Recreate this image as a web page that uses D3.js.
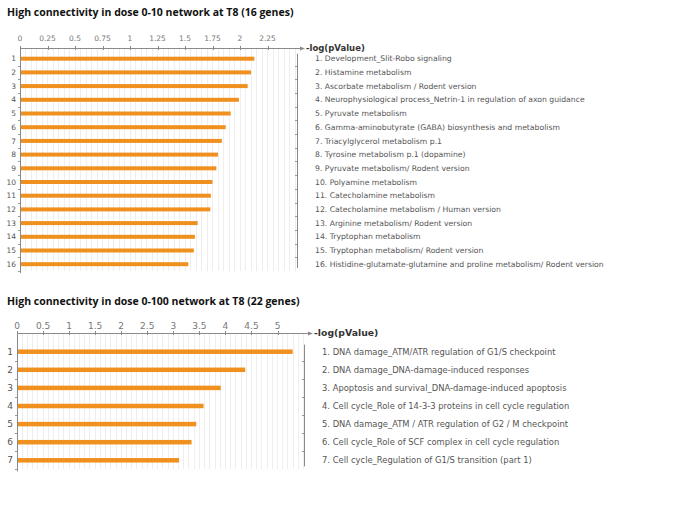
<!DOCTYPE html>
<html><head><meta charset="utf-8">
<script src="https://cdn.jsdelivr.net/npm/d3@7/dist/d3.min.js"></script>
<style>
body{margin:0;background:#fff;}
svg{display:block;}
</style></head>
<body>
<svg id="c" width="685" height="513"></svg>
<script>
// ---- Data ----
const title1 = "High connectivity in dose 0-10 network at T8 (16 genes)";
const pathways1 = [
  "Development_Slit-Robo signaling",
  "Histamine metabolism",
  "Ascorbate metabolism / Rodent version",
  "Neurophysiological process_Netrin-1 in regulation of axon guidance",
  "Pyruvate metabolism",
  "Gamma-aminobutyrate (GABA) biosynthesis and metabolism",
  "Triacylglycerol metabolism p.1",
  "Tyrosine metabolism p.1 (dopamine)",
  "Pyruvate metabolism/ Rodent version",
  "Polyamine metabolism",
  "Catecholamine metabolism",
  "Catecholamine metabolism / Human version",
  "Arginine metabolism/ Rodent version",
  "Tryptophan metabolism",
  "Tryptophan metabolism/ Rodent version",
  "Histidine-glutamate-glutamine and proline metabolism/ Rodent version"
];
const values1 = [2.13, 2.10, 2.07, 1.99, 1.915, 1.87, 1.835, 1.80, 1.785, 1.75, 1.735, 1.73, 1.615, 1.59, 1.58, 1.53];
const ticks1 = [0, 0.25, 0.5, 0.75, 1, 1.25, 1.5, 1.75, 2, 2.25];

const title2 = "High connectivity in dose 0-100 network at T8 (22 genes)";
const pathways2 = [
  "DNA damage_ATM/ATR regulation of G1/S checkpoint",
  "DNA damage_DNA-damage-induced responses",
  "Apoptosis and survival_DNA-damage-induced apoptosis",
  "Cell cycle_Role of 14-3-3 proteins in cell cycle regulation",
  "DNA damage_ATM / ATR regulation of G2 / M checkpoint",
  "Cell cycle_Role of SCF complex in cell cycle regulation",
  "Cell cycle_Regulation of G1/S transition (part 1)"
];
const values2 = [5.29, 4.38, 3.91, 3.58, 3.44, 3.35, 3.11];
const ticks2 = [0, 0.5, 1, 1.5, 2, 2.5, 3, 3.5, 4, 4.5, 5];

const axisTitle = "-log(pValue)";

// ---- Drawing ----
const svg = d3.select("#c");
const FONT = "'DejaVu Sans', Verdana, sans-serif";
const BAR = "#f0901e";

function panel(cfg) {
  const g = svg.append("g");
  const x = d3.scaleLinear().domain([0, cfg.xmax]).range([cfg.x0, cfg.x1]);
  const y = d3.scaleBand().domain(cfg.values.map((d, i) => i + 1))
    .range([cfg.yTop, cfg.yBot]).paddingInner(0).paddingOuter(0);

  // title
  g.append("text").attr("x", 7).attr("y", cfg.titleY)
    .attr("font-family", "'Open Sans', 'Liberation Sans', sans-serif")
    .attr("font-weight", "bold").attr("font-size", cfg.titleSize)
    .attr("fill", "#111").text(cfg.title);

  // minor gridlines
  const grid = d3.range(0, Math.round(cfg.xmax / cfg.minor) + 1).map(i => i * cfg.minor);
  g.append("g").selectAll("line").data(grid.slice(1)).join("line")
    .attr("x1", d => x(d)).attr("x2", d => x(d))
    .attr("y1", cfg.axisY).attr("y2", cfg.yBot)
    .attr("stroke", "#eeeeee").attr("stroke-width", 1).attr("shape-rendering", "crispEdges");

  // top axis line with arrow
  g.append("line").attr("x1", cfg.x0).attr("x2", cfg.arrowX)
    .attr("y1", cfg.axisY).attr("y2", cfg.axisY)
    .attr("stroke", "#8a8a8a").attr("shape-rendering", "crispEdges");
  g.append("path")
    .attr("d", `M${cfg.arrowX + 3},${cfg.axisY + 0.5} L${cfg.arrowX - 2},${cfg.axisY - 1.5} L${cfg.arrowX - 2},${cfg.axisY + 2.5} Z`)
    .attr("fill", "#8a8a8a");

  // tick marks + labels
  const tk = g.append("g");
  tk.selectAll("line").data(cfg.ticks).join("line")
    .attr("x1", d => Math.round(x(d)) + 0.5).attr("x2", d => Math.round(x(d)) + 0.5)
    .attr("y1", cfg.axisY - 2).attr("y2", cfg.axisY + 2).attr("stroke", "#8a8a8a");
  tk.selectAll("text").data(cfg.ticks).join("text")
    .attr("x", d => x(d)).attr("y", cfg.tickY)
    .attr("text-anchor", "middle").attr("font-family", FONT)
    .attr("font-size", cfg.tickSize).attr("fill", "#777").text(d => d);

  // axis title
  g.append("text").attr("x", cfg.arrowX + 4).attr("y", cfg.axisY + 3)
    .attr("font-family", FONT).attr("font-weight", "bold")
    .attr("font-size", cfg.axisTitleSize).attr("fill", "#333").text(axisTitle);

  // left axis line
  g.append("line").attr("x1", cfg.x0 + 0.5).attr("x2", cfg.x0 + 0.5)
    .attr("y1", cfg.axisY).attr("y2", cfg.yBot + 2)
    .attr("stroke", "#8a8a8a");
  // right line
  g.append("line").attr("x1", cfg.rightX + 0.5).attr("x2", cfg.rightX + 0.5)
    .attr("y1", cfg.yTop + 2).attr("y2", cfg.yBot - 3)
    .attr("stroke", "#8a8a8a");

  // row boundary ticks
  const bounds = d3.range(1, cfg.values.length + 1).map(i => cfg.yTop + i * y.step());
  g.append("g").selectAll("line").data(bounds).join("line")
    .attr("x1", cfg.x0 - 2).attr("x2", cfg.x0)
    .attr("y1", d => Math.round(d) + 0.5).attr("y2", d => Math.round(d) + 0.5)
    .attr("stroke", "#999");
  g.append("g").selectAll("line").data(bounds.slice(0, -1)).join("line")
    .attr("x1", cfg.rightX - 2).attr("x2", cfg.rightX)
    .attr("y1", d => Math.round(d) + 0.5).attr("y2", d => Math.round(d) + 0.5)
    .attr("stroke", "#999");

  // bars
  g.append("g").selectAll("rect").data(cfg.values).join("rect")
    .attr("x", cfg.x0 + 1)
    .attr("y", (d, i) => y(i + 1) + y.bandwidth() / 2 - cfg.barH / 2)
    .attr("width", d => x(d) - cfg.x0 - 1)
    .attr("height", cfg.barH).attr("fill", BAR);

  // row numbers
  g.append("g").selectAll("text").data(cfg.values).join("text")
    .attr("x", cfg.x0 - 4).attr("y", (d, i) => y(i + 1) + y.bandwidth() / 2)
    .attr("dy", "0.35em").attr("text-anchor", "end")
    .attr("font-family", FONT).attr("font-size", cfg.numSize).attr("fill", "#555")
    .text((d, i) => i + 1);

  // pathway labels
  g.append("g").selectAll("text").data(cfg.names).join("text")
    .attr("x", cfg.labelX).attr("y", (d, i) => y(i + 1) + y.bandwidth() / 2)
    .attr("dy", "0.35em")
    .attr("font-family", FONT).attr("font-size", cfg.labelSize).attr("fill", "#555")
    .text((d, i) => (i + 1) + ". " + d);
}

panel({
  title: title1, titleY: 16, titleSize: 10.5,
  values: values1, names: pathways1, ticks: ticks1,
  xmax: 2.5, minor: 0.05, x0: 20, x1: 295, arrowX: 302, rightX: 297,
  axisY: 48, tickY: 41, tickSize: 7.5, axisTitleSize: 8.5,
  yTop: 51.85, yBot: 271.05, barH: 4,
  numSize: 7.5, labelSize: 7.7, labelX: 315
});

panel({
  title: title2, titleY: 305, titleSize: 10.5,
  values: values2, names: pathways2, ticks: ticks2,
  xmax: 5.5, minor: 0.1, x0: 17, x1: 303.6, arrowX: 310, rightX: 304,
  axisY: 333, tickY: 328.5, tickSize: 9, axisTitleSize: 9.3,
  yTop: 342.65, yBot: 469.35, barH: 4.5,
  numSize: 9, labelSize: 8.4, labelX: 322
});
</script>
</body></html>
